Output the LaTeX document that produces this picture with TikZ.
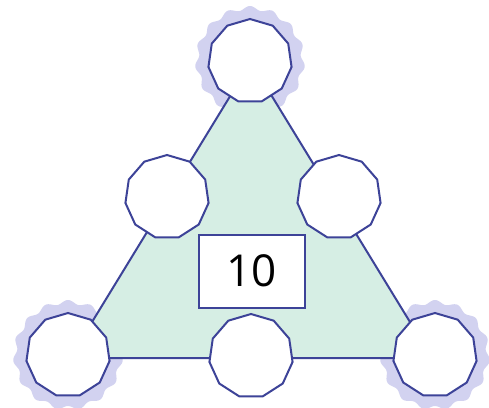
\documentclass[tikz,border=0pt]{standalone}
\usepackage{fontspec}
\setmainfont{Open Sans}
\usetikzlibrary{shapes.geometric}
\definecolor{edge}{HTML}{3D4398}
\definecolor{mint}{HTML}{D6EEE4}
\definecolor{halo}{HTML}{D2D2F0}
\begin{document}
\begin{tikzpicture}[x=1pt,y=-1pt,
  spot/.style={draw=edge, fill=white, line width=2pt, regular polygon, regular polygon sides=11, minimum size=84pt, inner sep=0pt},
  numbox/.style={draw=edge, fill=white, line width=2pt, minimum width=106pt, minimum height=73pt, inner sep=0pt, font=\fontsize{44}{44}\selectfont},
  glow/.style={fill=halo}]
\useasboundingbox (0,0) rectangle (489,407);
\fill[white] (0,0) rectangle (489,407);
% halos
\foreach \px/\py in {250/61, 68/355, 435/355}{
  \begin{scope}[shift={(\px,\py)}]
    \fill[glow] plot[domain=0:360, samples=240, smooth] (\x:{53+2*sin(15*\x)}) -- cycle;
  \end{scope}}
% triangle
\coordinate (A) at (251,62);
\coordinate (B) at (70,358);
\coordinate (C) at (432,358);
\filldraw[fill=mint, draw=edge, line width=2pt, line join=round] (A) -- (B) -- (C) -- cycle;
% spots
\node[spot] (top) at (250,61) {};
\node[spot] (ml) at (167,197) {};
\node[spot] (mr) at (339,197) {};
\node[spot] (bl) at (68,355) {};
\node[spot] (bm) at (251,356) {};
\node[spot] (br) at (435,355) {};
\node[numbox] (box) at (251.5,271) {10};
\end{tikzpicture}
\end{document}
